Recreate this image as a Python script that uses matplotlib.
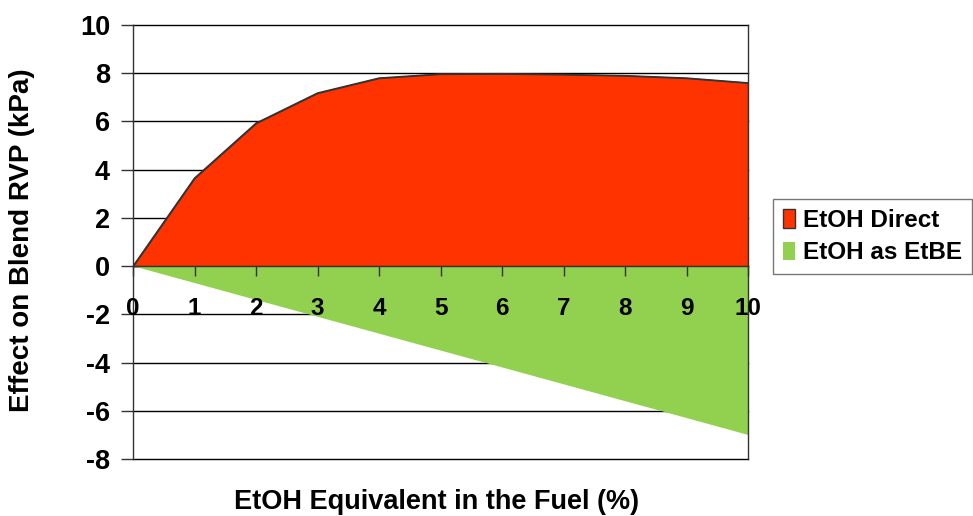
import numpy as np
import matplotlib.pyplot as plt

# EtOH equivalent in fuel (%) and RVP effect (kPa)
etoh_pct = [0, 1, 2, 3, 4, 5, 6, 7, 8, 9, 10]
etoh_direct = [0, 3.65, 5.93, 7.18, 7.8, 7.97, 7.98, 7.95, 7.9, 7.8, 7.6]
etoh_as_etbe = [0, -0.7, -1.4, -2.1, -2.8, -3.5, -4.2, -4.9, -5.6, -6.3, -7.0]

y_ticks = [-8, -6, -4, -2, 0, 2, 4, 6, 8, 10]

plt.rcParams['axes.unicode_minus'] = False
arial = ['Liberation Sans', 'DejaVu Sans']

fig = plt.figure(figsize=(9.73, 5.16), dpi=100)
ax = fig.add_axes([0.1367, 0.1105, 0.6321, 0.8411])

ax.fill_between(etoh_pct, 0, etoh_direct, color='#FF3300', edgecolor='none',
                label='EtOH Direct', zorder=2)
ax.plot(etoh_pct, etoh_direct, color='#333333', lw=1, zorder=3)
ax.fill_between(etoh_pct, 0, etoh_as_etbe, color='#92D050', edgecolor='none',
                label='EtOH as EtBE', zorder=2)

ax.set_xlim(0, 10)
ax.set_ylim(-8, 10)
ax.set_yticks(y_ticks)
ax.set_xticks(etoh_pct)

# gridlines behind the fills, x tick labels on top of them
ax.grid(axis='y', color='black', lw=1)
ax.set_axisbelow(True)
ax.xaxis.set_zorder(5)
for gl in ax.get_ygridlines():
    gl.set_clip_on(False)

ax.spines['bottom'].set_position(('data', 0))
ax.spines['bottom'].set_zorder(4)
ax.spines['top'].set_visible(False)
for s in ['left', 'right', 'bottom']:
    ax.spines[s].set_color('#333333')
    ax.spines[s].set_linewidth(1)

ax.tick_params(axis='y', length=9, width=1, color='#333333', pad=7.5)
ax.tick_params(axis='x', length=7, width=1, color='#333333', pad=15)

for lbl in ax.get_yticklabels():
    lbl.set_fontfamily(arial)
    lbl.set_fontweight('bold')
    lbl.set_fontsize(19.5)
for lbl in ax.get_xticklabels():
    lbl.set_fontfamily(arial)
    lbl.set_fontweight('bold')
    lbl.set_fontsize(17.5)

fig.text(0.023, 0.535, 'Effect on Blend RVP (kPa)', rotation=90, ha='center', va='center',
         fontsize=20, fontweight='bold', family=arial)
fig.text(0.449, 0.014, 'EtOH Equivalent in the Fuel (%)', ha='center', va='baseline',
         fontsize=19.5, fontweight='bold', family=arial)

handles, labels = ax.get_legend_handles_labels()
handles[0].set_edgecolor('#333333')
leg = fig.legend(handles, labels, loc='upper left', bbox_to_anchor=(0.7945, 0.6143),
                 frameon=True, fancybox=False, edgecolor='#555555',
                 prop={'family': arial, 'weight': 'bold', 'size': 17.5},
                 handlelength=0.5, handleheight=0.8, handletextpad=0.35,
                 borderpad=0.4, labelspacing=0.4, borderaxespad=0)
leg.get_frame().set_linewidth(1)

fig.savefig('out.png', dpi=100)
